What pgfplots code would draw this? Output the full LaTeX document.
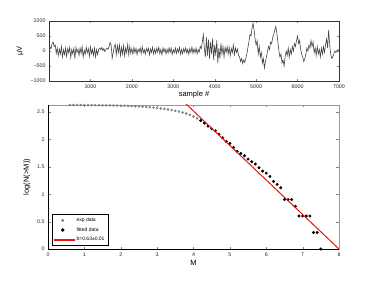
\documentclass[border=0pt]{standalone}
\usepackage{fontspec}
\setmainfont{Liberation Sans}
\usepackage{pgfplots}
\usepackage{pgfplotstable}
\pgfplotsset{compat=1.18}
\definecolor{fitred}{RGB}{230,20,20}
% EEG trace, one value every 25 samples (0..7000)
\pgfplotstableread[row sep=\\, header=false]{
-50\\120\\80\\250\\300\\150\\200\\-80\\100\\-150\\
60\\-100\\150\\-200\\40\\-120\\100\\-180\\80\\-60\\
130\\-220\\50\\-100\\90\\-250\\120\\-50\\60\\-150\\
100\\-80\\150\\-200\\30\\-100\\120\\-60\\80\\-180\\
140\\-90\\60\\-150\\100\\-200\\50\\-120\\
60\\100\\40\\120\\20\\80\\-20\\50\\100\\60\\150\\280\\
200\\-240\\-60\\150\\
220\\-120\\180\\-50\\200\\-150\\120\\-100\\180\\-160\\100\\-60\\220\\-120\\150\\-80\\
80\\-100\\120\\-60\\90\\-120\\60\\-30\\110\\-90\\
140\\-60\\50\\-110\\80\\-20\\100\\-130\\70\\-50\\
120\\-100\\60\\-80\\90\\-40\\130\\-90\\50\\-120\\
100\\-30\\80\\-100\\60\\-70\\110\\-50\\90\\-110\\
40\\-60\\100\\-80\\70\\-40\\120\\-100\\50\\-90\\
80\\-30\\110\\-70\\60\\-110\\90\\-50\\130\\-80\\
70\\-60\\100\\-90\\50\\-40\\150\\80\\
300\\540\\100\\-200\\450\\-150\\380\\-250\\300\\-100\\420\\-300\\200\\-150\\350\\-400\\100\\-250\\250\\-100\\150\\-200\\120\\-50\\
150\\-100\\120\\-150\\80\\-60\\200\\-120\\100\\-50\\60\\-150\\
-200\\-350\\-250\\-420\\-300\\-380\\-250\\-100\\
100\\300\\550\\500\\750\\930\\700\\400\\
200\\350\\-100\\150\\-200\\-50\\-400\\-250\\-570\\-350\\
-200\\0\\150\\50\\300\\250\\450\\550\\700\\820\\
600\\300\\0\\-200\\-100\\-400\\-300\\-500\\
-200\\0\\-150\\100\\-200\\50\\-100\\150\\0\\250\\150\\350\\
500\\250\\350\\50\\-100\\-200\\-350\\-250\\
-100\\100\\0\\200\\100\\350\\150\\300\\
-50\\100\\-150\\150\\-100\\50\\-200\\100\\-100\\150\\-50\\200\\
400\\100\\700\\200\\-100\\-250\\
-200\\-100\\0\\-50\\20\\50\\0\\
}\eeg
\pgfplotstableread{
x y
0.0 2.631
0.1 2.631
0.2 2.631
0.3 2.631
0.4 2.631
0.5 2.631
0.6 2.630
0.7 2.630
0.8 2.630
0.9 2.629
1.0 2.629
1.1 2.628
1.2 2.627
1.3 2.627
1.4 2.626
1.5 2.625
1.6 2.624
1.7 2.623
1.8 2.622
1.9 2.620
2.0 2.618
2.1 2.616
2.2 2.613
2.3 2.610
2.4 2.607
2.5 2.603
2.6 2.599
2.7 2.594
2.8 2.588
2.9 2.582
3.0 2.575
3.1 2.567
3.2 2.558
3.3 2.548
3.4 2.537
3.5 2.524
3.6 2.510
3.7 2.494
3.8 2.474
3.9 2.450
4.0 2.420
4.1 2.385
}\expdata
\pgfplotstableread{
x y
4.2 2.347
4.3 2.299
4.4 2.244
4.5 2.195
4.6 2.159
4.7 2.098
4.8 2.031
4.9 1.964
5.0 1.928
5.1 1.855
5.2 1.782
5.3 1.745
5.4 1.703
5.5 1.642
5.6 1.593
5.7 1.551
5.8 1.484
5.9 1.423
6.0 1.386
6.1 1.325
6.2 1.234
6.3 1.179
6.4 1.119
6.5 0.903
6.6 0.903
6.7 0.903
6.8 0.778
6.9 0.602
7.0 0.602
7.1 0.602
7.2 0.602
7.3 0.301
7.4 0.301
7.5 0.000
}\fitdata
\begin{document}
\begin{tikzpicture}
\useasboundingbox (0pt,0pt) rectangle (374pt,281pt);
\begin{axis}[at={(49pt,200pt)}, anchor=south west, scale only axis,
  width=290pt, height=60pt,
  xmin=0, xmax=7000, ymin=-1000, ymax=1000,
  xtick={1000,2000,3000,4000,5000,6000,7000},
  ytick={-1000,-500,0,500,1000},
  yticklabels={−1000,−500,0,500,1000},
  scaled x ticks=false,
  /pgf/number format/1000 sep={},
  /pgf/number format/assume math mode=true,
  tick label style={font=\fontsize{5.3}{6}\selectfont, text=black!85},
  tick align=inside, major tick length=2pt,
  axis line style={line width=0.5pt, black!80},
  xlabel={sample \#}, ylabel={µV},
  xlabel style={font=\fontsize{7.5}{8}\selectfont, at={(axis description cs:0.5,0)}, anchor=north, inner sep=0pt, yshift=-10pt},
  ylabel style={font=\fontsize{7.5}{8}\selectfont, at={(axis description cs:-0.1,0.5)}, anchor=center},
]
\addplot[line width=0.6pt, color=black!72, mark=none] table[x expr=\coordindex*25, y index=0] {\eeg};
\end{axis}
\begin{axis}[at={(48pt,32pt)}, anchor=south west, scale only axis,
  width=291pt, height=144pt,
  xmin=0, xmax=8, ymin=0, ymax=2.63,
  xtick={0,1,2,3,4,5,6,7,8},
  ytick={0,0.5,1,1.5,2,2.5},
  /pgf/number format/assume math mode=true,
  tick label style={font=\fontsize{5.3}{6}\selectfont, text=black!85},
  tick align=inside, major tick length=2.5pt,
  axis line style={line width=0.6pt, black!40},
  clip mode=individual,
  xlabel={M}, ylabel={log(N(>M))},
  xlabel style={font=\fontsize{7.5}{8}\selectfont, at={(axis description cs:0.5,0)}, anchor=center, yshift=-14pt},
  ylabel style={font=\fontsize{7.5}{8}\selectfont, at={(axis description cs:-0.072,0.5)}, anchor=center},
  legend style={at={(0.013,0.02)}, anchor=south west, draw=black, line width=0.8pt,
    font=\fontsize{5}{6}\selectfont, inner sep=1.5pt, row sep=0.5pt, fill=white},
  legend cell align=left,
  extra description/.code={\draw[black, line width=0.9pt] (0,1) -- (0,0) -- (1,0);},
]
\addplot[only marks, mark=*, mark size=1.05pt, color=black!50] table[x=x, y=y] {\expdata};
\addlegendentry{exp data}
\addplot[only marks, mark=*, mark size=1.3pt, color=black] table[x=x, y=y] {\fitdata};
\addlegendentry{fitted data}
\addplot[color=fitred, line width=1pt, mark=none,
  legend image code/.code={\fill[fitred] (0cm,-0.6pt) rectangle (0.7cm,0.6pt);}] coordinates {(3.7,2.709) (8,0)};
\addlegendentry{b=0.63±0.01}
\end{axis}
\end{tikzpicture}
\end{document}
